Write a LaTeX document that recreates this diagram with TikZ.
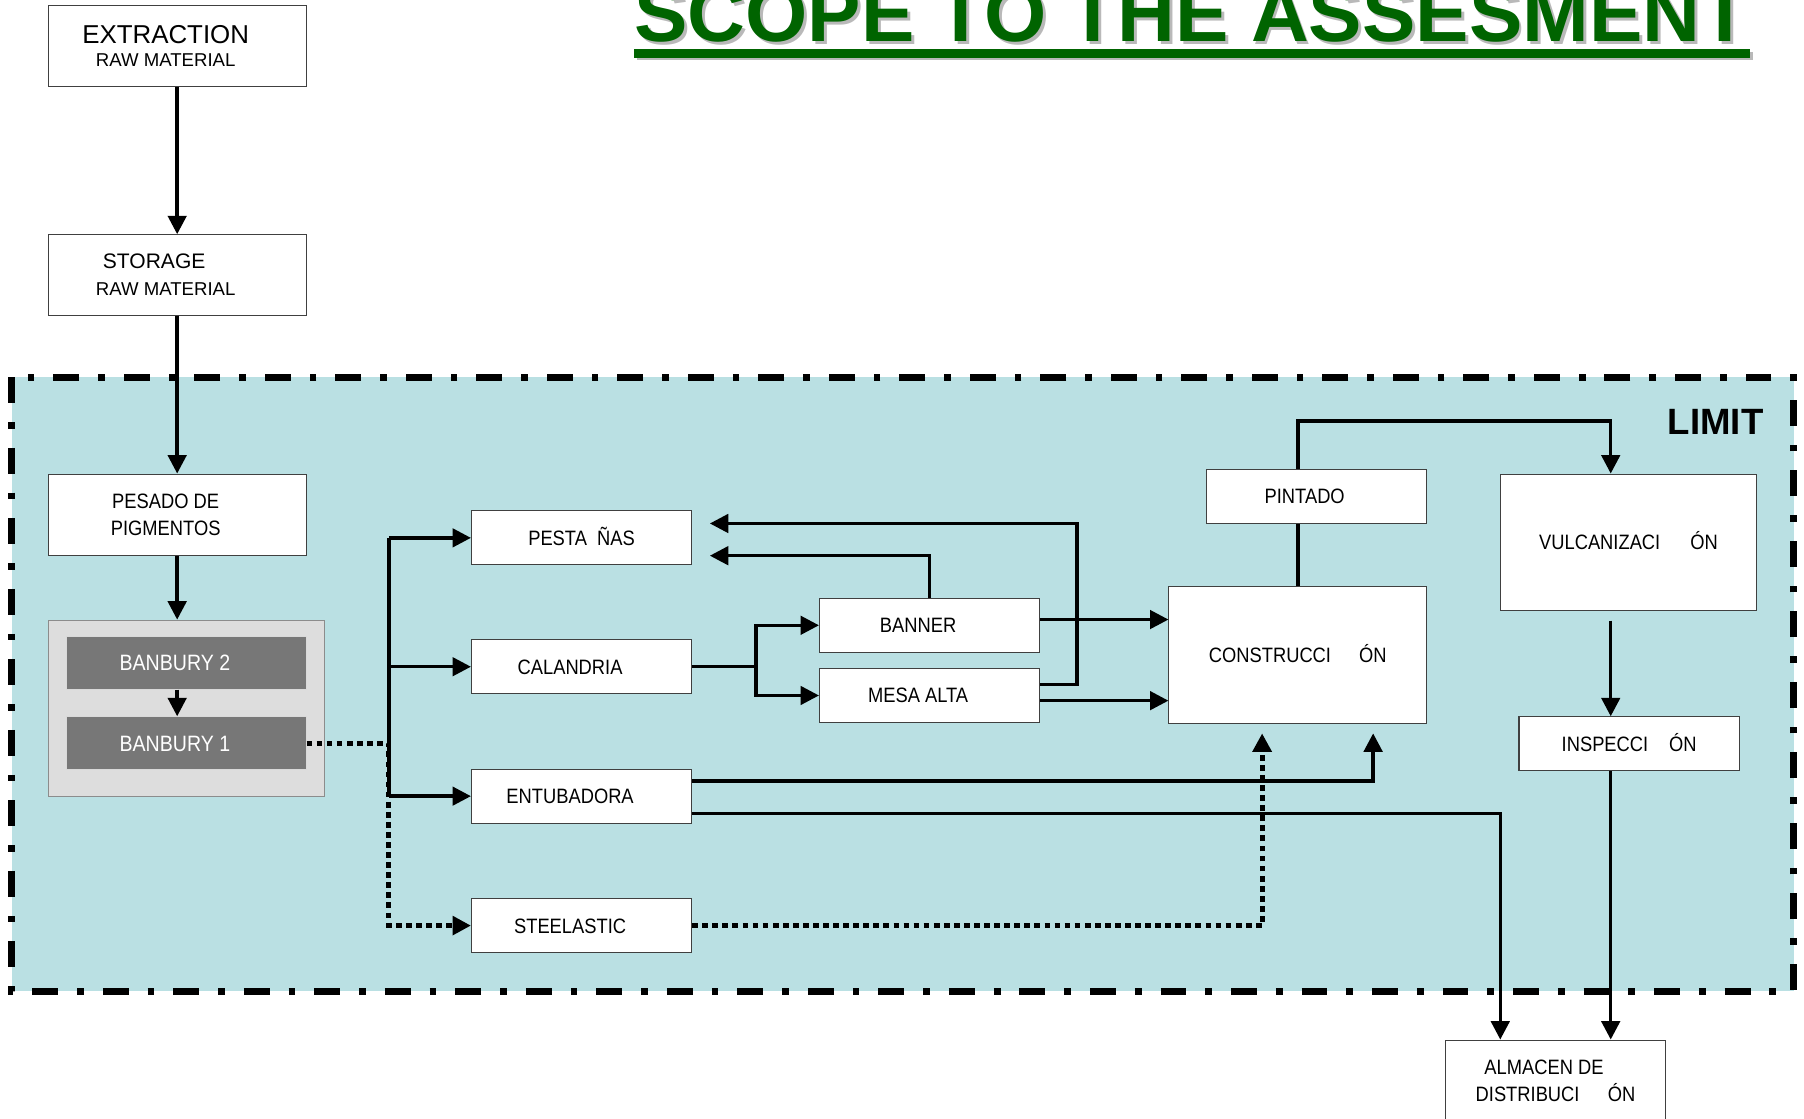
\documentclass[tikz,border=0pt]{standalone}
\usepackage{fontspec}
\setmainfont{Liberation Sans}
\newfontfamily\narrowfont[FakeStretch=0.88]{Liberation Sans}
\usetikzlibrary{arrows.meta,positioning}

\definecolor{limitblue}{RGB}{186,224,227}
\definecolor{titlegreen}{RGB}{0,100,0}
\definecolor{shadowgray}{RGB}{185,185,185}
\definecolor{groupgray}{RGB}{221,221,221}
\definecolor{bangray}{RGB}{119,119,119}

\newcommand{\tsp}{\hspace*{0.4cm}}

\tikzset{
    cell/.style={draw=black!75, line width=0.5pt, fill=white, inner sep=0pt,
        minimum width=3.83cm, minimum height=0.94cm,
        font=\narrowfont\fontsize{10.3}{13}\selectfont},
    stage/.style={cell, text height=7.4pt, text depth=0pt},
    stage2/.style={cell, align=center},
    banbury/.style={cell, fill=bangray, draw=white!85!black, text=white,
        minimum width=4.16cm, minimum height=0.92cm, text height=7.9pt, text depth=0pt,
        font=\narrowfont\fontsize{11}{13}\selectfont},
    flow/.style={line width=0.06cm},
    dotflow/.style={line width=0.09cm, dash pattern=on 0.1cm off 0.075cm},
    limitline/.style={line width=0.116cm, dash pattern=on 0.45cm off 0.33cm on 0.116cm off 0.33cm},
    heading/.style={anchor=base west, inner sep=0pt, text=titlegreen,
        font=\bfseries\fontsize{39.6}{40}\selectfont}
}

\begin{document}
\begin{tikzpicture}[x=0.02cm, y=-0.02cm, >={Triangle[length=0.32cm,width=0.32cm]}]
    \useasboundingbox (0,0) rectangle (1568,972);

    % Title with its shadow
    \node[heading, text=shadowgray] (titleshadow) at (553.5,38.5) {SCOPE TO THE ASSESMENT};
    \node[heading] (title) at (551,36) {SCOPE TO THE ASSESMENT};
    \fill[shadowgray] (553.5,45.5) rectangle (1523.5,52.5);
    \fill[titlegreen] (551,43) rectangle (1521,50);

    % Limit of the assessment
    \draw[limitline, fill=limitblue] (10,328) rectangle (1559,861.5);
    \node[anchor=base east, inner sep=0pt, font=\bfseries\fontsize{18.1}{20}\selectfont] (limit) at (1533,378) {LIMIT};

    % Raw material and mixing
    \node[stage2, minimum width=4.48cm, minimum height=1.4cm, font=\fontsize{9.2}{11.2}\selectfont] (extract) at (154,40) {{\fontsize{12.8}{11.2}\selectfont EXTRACTION}\tsp\\RAW MATERIAL\tsp};
    \node[stage2, minimum width=4.48cm, minimum height=1.4cm, font=\fontsize{9.2}{13.3}\selectfont] (storage) at (154,239) {{\fontsize{10.4}{13.3}\selectfont STORAGE}\tsp\tsp\\RAW MATERIAL\tsp};
    \node[stage2, minimum width=4.48cm, minimum height=1.42cm] (pesado) at (154,447.5) {PESADO DE\tsp\\PIGMENTOS\tsp};
    \node[draw=black!45, line width=0.5pt, fill=groupgray, inner sep=0pt, minimum width=4.8cm, minimum height=3.06cm] (mixer) at (162,615.5) {};
    \node[banbury] (ban2) at (162,576) {BANBURY 2\tsp};
    \node[banbury] (ban1) at (162,646) {BANBURY 1\tsp};

    % Stages
    \node[stage] (pest) at (505.5,467.5) {PESTA~~ÑAS};
    \node[stage] (cal) at (505.5,579.5) {CALANDRIA\tsp};
    \node[stage] (entu) at (505.5,692) {ENTUBADORA\tsp};
    \node[stage] (steel) at (505.5,804.5) {STEELASTIC\tsp};
    \node[stage] (banner) at (808,543.5) {BANNER\tsp};
    \node[stage] (mesa) at (808,604.5) {MESA ALTA\tsp};
    \node[stage, minimum width=4.48cm, minimum height=2.38cm] (constr) at (1128,569.5) {CONSTRUCCI\hspace{1.35em}ÓN};
    \node[stage] (pint) at (1144,431.5) {PINTADO\tsp};
    \node[stage, minimum width=4.46cm, minimum height=2.38cm] (vulc) at (1415.5,471.5) {VULCANIZACI\hspace{1.45em}ÓN};
    \node[stage] (insp) at (1416,646.5) {INSPECCI\hspace{1em}ÓN};
    \node[stage2, minimum width=3.82cm, minimum height=1.42cm] (alm) at (1352,939.5) {ALMACEN DE\tsp\\DISTRIBUCI\hspace{1.36em}ÓN};

    \coordinate (trunk) at (338,0);
    \coordinate (fork) at (657,0);
    \coordinate (axis) at (1400,0);
    \coordinate (pin1) at (617,455);
    \coordinate (pin2) at (617,483);

    % Raw material to the mixers
    \draw[flow,->] (extract) -- (storage);
    \draw[flow,->] (storage) -- (pesado);
    \draw[flow,->] (pesado) -- (pesado |- mixer.north);
    \draw[flow,->] (pesado |- ban2.south) -- (pesado |- ban1.north);

    % Mixers to the first stages
    \draw[flow] (trunk |- pest) -- (trunk |- entu);
    \foreach \n in {pest,cal,entu}
        \draw[flow,->] (trunk |- \n) -- (\n);
    \draw[dotflow,->] (ban1) -| (trunk |- steel) -- (steel);

    % Calandria to banner and mesa alta
    \draw[flow] (cal) -- (fork |- cal);
    \draw[flow,->] (fork |- cal) |- (banner);
    \draw[flow,->] (fork |- cal) |- (mesa);
    \draw[flow,->] (banner) |- (pin2);
    \draw[flow,->] ([yshift=0.19cm]mesa.east) -- ++(32,0) |- (pin1);

    % Into construccion
    \draw[flow,->] ([yshift=0.1cm]banner.east) -- ([yshift=0.1cm]banner.east -| constr.west);
    \draw[flow,->] ([yshift=-0.09cm]mesa.east) -- ([yshift=-0.09cm]mesa.east -| constr.west);
    \draw[flow,->,shorten >=0.16cm] ([yshift=0.26cm]entu.east) -| ([xshift=1.31cm]constr.south);
    \draw[dotflow,->,shorten >=0.16cm] (steel) -| ([xshift=-0.62cm]constr.south);

    % Finishing
    \draw[flow] (constr) -- (constr |- pint.south);
    \draw[flow,->] (constr |- pint.north) -- ++(0,-41.5) -| (axis |- vulc.north);
    \draw[flow,->,shorten <=0.16cm] (axis |- vulc.south) -- (axis |- insp.north);
    \draw[flow,->] (axis |- insp.south) -- (axis |- alm.north);
    \draw[flow,->] ([yshift=-0.3cm]entu.east) -| ([xshift=-0.96cm]alm.north);
\end{tikzpicture}
\end{document}
